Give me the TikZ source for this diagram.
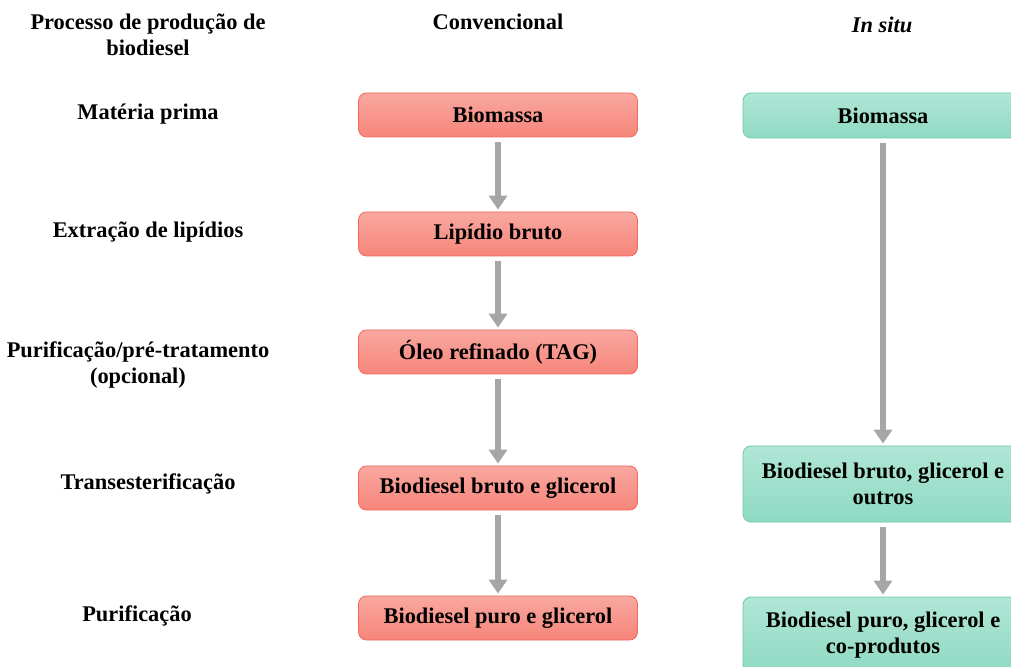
\documentclass[tikz,border=0pt]{standalone}
\usepackage{fontspec}
\setmainfont{Liberation Serif}
\usetikzlibrary{arrows.meta}
\definecolor{redtop}{HTML}{F9A8A0}
\definecolor{redbot}{HTML}{F7857A}
\definecolor{redline}{HTML}{EF6A5A}
\definecolor{greentop}{HTML}{B0E6D6}
\definecolor{greenbot}{HTML}{8FDAC3}
\definecolor{greenline}{HTML}{6CC7A9}
\definecolor{arrowgray}{HTML}{A6A6A6}

\begin{document}
\begin{tikzpicture}[
            x = 0.5pt, y = -0.5pt,
            every node/.style={font=\fontsize{11.2}{13}\selectfont\bfseries, align=center, inner sep=0pt},
            conv/.style={draw=redline, top color=redtop, bottom color=redbot, rounded corners=4pt, minimum width=139.5pt, minimum height=22pt},
            insitu/.style={draw=greenline, top color=greentop, bottom color=greenbot, rounded corners=4pt, minimum width=140pt, minimum height=22.5pt},
            line/.style={draw=arrowgray, line width=3pt, -{Triangle[width=9pt, length=7pt]}, shorten <=2.5pt, shorten >=1pt},
            ]
        \useasboundingbox (0, 0) rectangle (1011, 667);

        % headers
        \node (h0) at (148, 35) {Processo de produção de\\biodiesel};
        \node (h1) at (498, 22) {Convencional};
        \node (h2) at (882, 25) {\itshape In situ};

        % steps
        \node (l1) at (148, 114) {Matéria prima};
        \node (l2) at (148, 232) {Extração de lipídios};
        \node (l3) at (138, 365) {Purificação/pré-tratamento\\(opcional)};
        \node (l4) at (148, 484) {Transesterificação};
        \node (l5) at (137, 616) {Purificação};

        % conventional route
        \node[conv] (c1) at (498, 115) {Biomassa};
        \node[conv] (c2) at (498, 234) {Lipídio bruto};
        \node[conv] (c3) at (498, 352) {Óleo refinado (TAG)};
        \node[conv] (c4) at (498, 488) {Biodiesel bruto e glicerol};
        \node[conv] (c5) at (498, 618) {Biodiesel puro e glicerol};

        % in situ route
        \node[insitu] (s1) at (883, 115.5) {Biomassa};
        \node[insitu, minimum height=38pt] (s2) at (883, 484) {Biodiesel bruto, glicerol e\\outros};
        \node[insitu, minimum height=38pt] (s3) at (883, 635) {Biodiesel puro, glicerol e\\co-produtos};

        \draw[line] (c1) -- (c2);
        \draw[line] (c2) -- (c3);
        \draw[line] (c3) -- (c4);
        \draw[line] (c4) -- (c5);
        \draw[line] (s1) -- (s2);
        \draw[line] (s2) -- (s3);
    \end{tikzpicture}
\end{document}
